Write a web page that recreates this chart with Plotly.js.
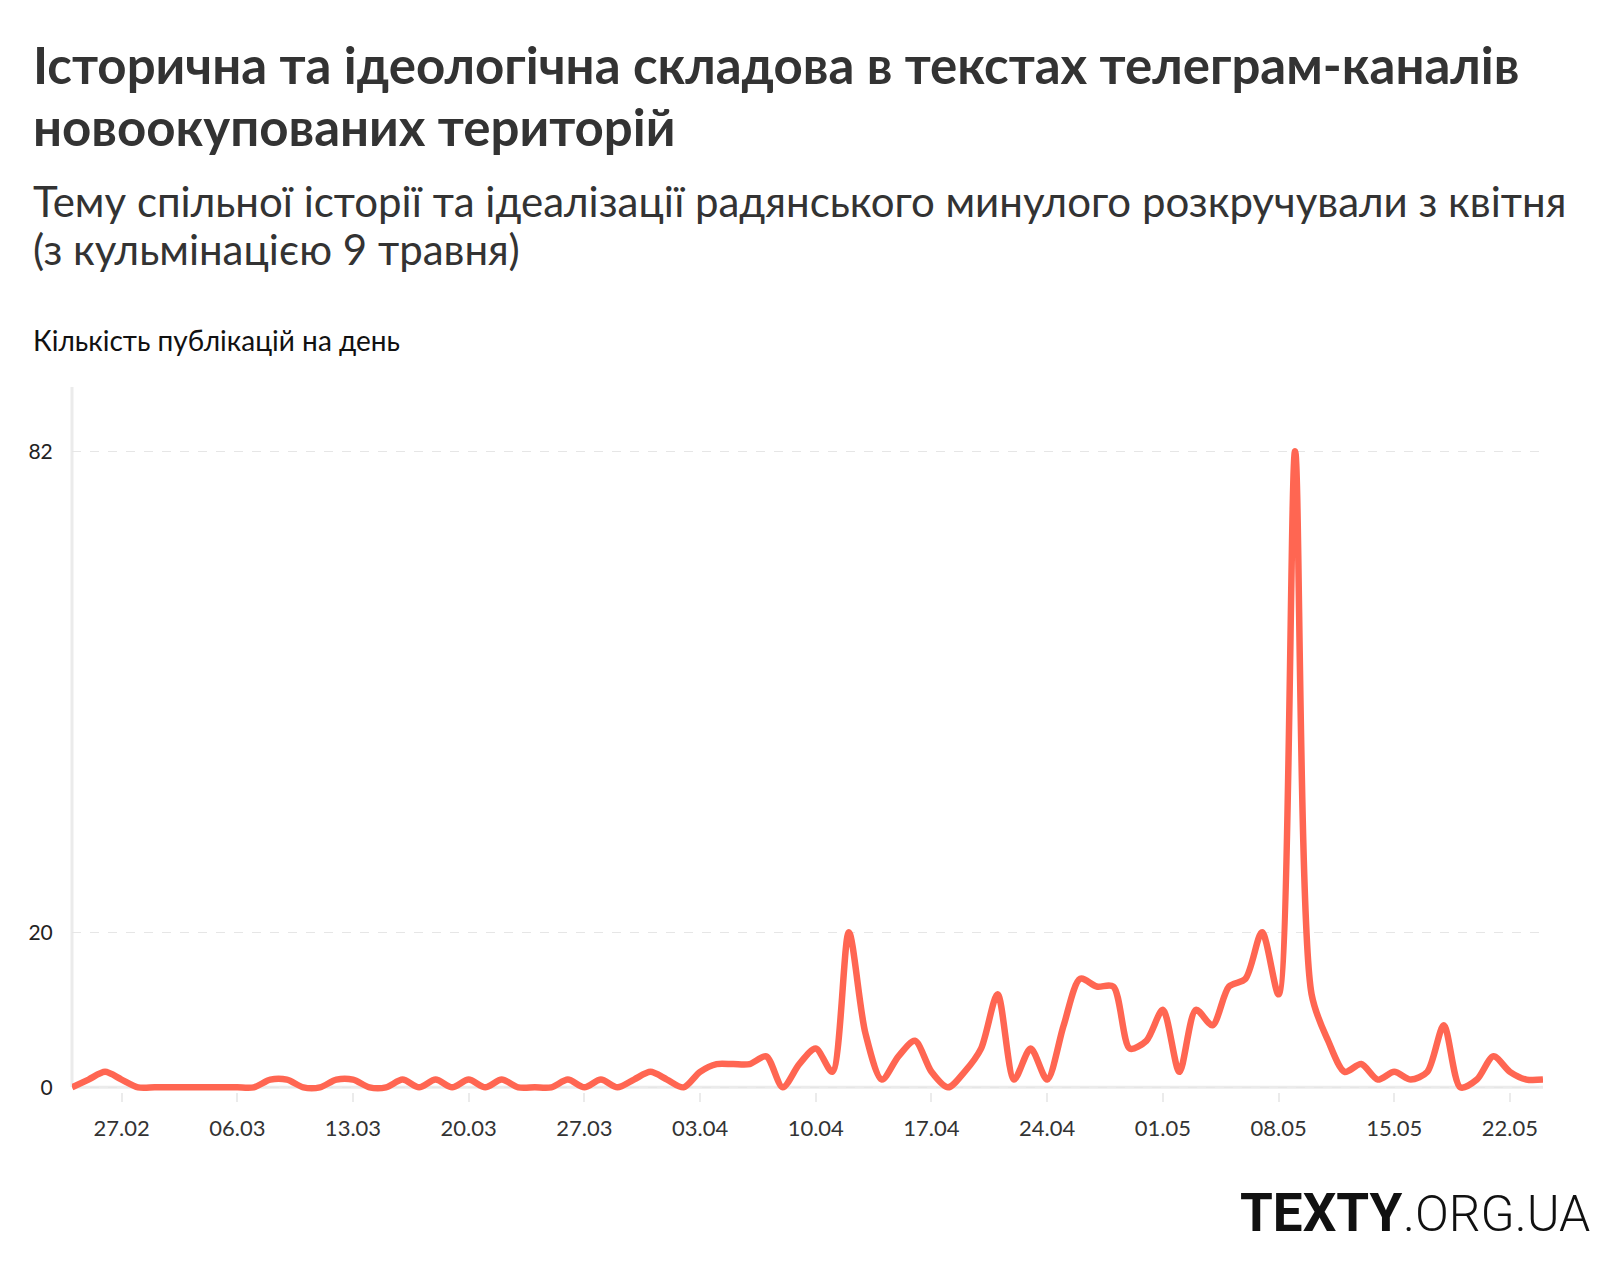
<!DOCTYPE html>
<html>
<head>
<meta charset="utf-8">
<script src="https://cdn.plot.ly/plotly-3.0.1.min.js"></script>
<style>
  html, body { margin: 0; padding: 0; background: #fff; }
  #chart { width: 1620px; height: 1270px; }
</style>
</head>
<body>
<div id="chart"></div>
<script>
// ---- data ----
const startDate = '2022-02-24';
const publications = [
  0, 1, 2, 1, 0, 0, 0, 0, 0, 0,
  0, 0, 1, 1, 0, 0, 1, 1, 0, 0,
  1, 0, 1, 0, 1, 0, 1, 0, 0, 0,
  1, 0, 1, 0, 1, 2, 1, 0, 2, 3,
  3, 3, 4, 0, 3, 5, 2, 20, 7, 1,
  4, 6, 2, 0, 2, 5, 12, 1, 5, 1,
  8, 14, 13, 13, 5, 6, 10, 2, 10, 8,
  13, 14, 20, 12, 82, 12, 6, 2, 3, 1,
  2, 1, 2, 8, 0, 1, 4, 2, 1, 1
];
const yTickValues = [0, 20, 82];
const firstTickDate = '2022-02-27';

const titleLines = ['Історична та ідеологічна складова в текстах телеграм-каналів', 'новоокупованих територій'];
const subtitleLines = ['Тему спільної історії та ідеалізації радянського минулого розкручували з квітня', '(з кульмінацією 9 травня)'];
const yTitleText = 'Кількість публікацій на день';

// ---- build dates ----
function addDays(iso, n) {
  const d = new Date(iso + 'T00:00:00Z');
  d.setUTCDate(d.getUTCDate() + n);
  return d.toISOString().slice(0, 10);
}
const dates = publications.map((_, i) => addDays(startDate, i));

// ---- geometry helpers (layout only) ----
const W = 1620, H = 1270;
const M = { l: 72, r: 77, t: 387, b: 178 };
const plotW = W - M.l - M.r, plotH = H - M.t - M.b;
const px2x = px => (px - M.l) / plotW;
const px2y = py => (H - M.b - py) / plotH;

const FONT = 'Lato, "Noto Sans", sans-serif';

function textLine(text, leftPx, topPx, size, color, extra) {
  return Object.assign({
    text: text, xref: 'paper', yref: 'paper',
    x: px2x(leftPx), y: px2y(topPx), xanchor: 'left', yanchor: 'top', align: 'left',
    showarrow: false, font: { family: FONT, size: size, color: color }
  }, extra || {});
}

const trace = {
  x: dates,
  y: publications,
  type: 'scatter',
  mode: 'lines',
  line: { color: '#ff6652', width: 6.5, shape: 'spline', smoothing: 0.8 },
  hoverinfo: 'x+y'
};

const layout = {
  width: W, height: H,
  margin: M,
  paper_bgcolor: '#fff',
  plot_bgcolor: '#fff',
  showlegend: false,
  font: { family: FONT, color: '#333' },
  xaxis: {
    type: 'date',
    range: [dates[0], dates[dates.length - 1]],
    tick0: firstTickDate,
    dtick: 7 * 86400000,
    tickformat: '%d.%m',
    ticks: 'outside',
    ticklen: 9,
    tickwidth: 2,
    tickcolor: '#ebebeb',
    ticklabelstandoff: 8,
    showgrid: false,
    showline: false,
    zeroline: false,
    tickfont: { family: FONT, size: 22, color: '#333' },
    fixedrange: true
  },
  yaxis: {
    range: [-0.6, 90.3],
    tickmode: 'array',
    tickvals: yTickValues,
    ticktext: yTickValues.map(String),
    ticks: 'outside',
    ticklen: 14,
    tickcolor: 'rgba(0,0,0,0)',
    showgrid: true,
    gridcolor: '#e6e6e6',
    griddash: 'dash',
    gridwidth: 1,
    zeroline: false,
    showline: false,
    tickfont: { family: FONT, size: 21, color: '#222' },
    fixedrange: true
  },
  shapes: [
    { type: 'line', xref: 'paper', yref: 'y', x0: 0, x1: 1, y0: 0, y1: 0,
      line: { color: '#ebebeb', width: 3 }, layer: 'below' },
    { type: 'line', xref: 'paper', yref: 'paper', x0: 0, x1: 0, y0: px2y(1087), y1: 1,
      line: { color: '#ebebeb', width: 3 }, layer: 'below' }
  ],
  annotations: [
    textLine('<b>' + titleLines[0] + '</b>', 31, 32, 51, '#333'),
    textLine('<b>' + titleLines[1] + '</b>', 31, 94, 51, '#333'),
    textLine(subtitleLines[0], 31, 174, 42, '#333'),
    textLine(subtitleLines[1], 31, 222, 42, '#333'),
    textLine(yTitleText, 31, 321, 28, '#111'),
    { text: '<b>TEXTY</b>', xref: 'paper', yref: 'paper',
      x: px2x(1405), y: px2y(1180), xanchor: 'right', yanchor: 'top',
      showarrow: false, font: { family: 'Roboto, sans-serif', size: 53, color: '#111', weight: 900 } },
    { text: '.ORG.UA', xref: 'paper', yref: 'paper',
      x: px2x(1401), y: px2y(1183), xanchor: 'left', yanchor: 'top',
      showarrow: false, font: { family: 'Roboto, sans-serif', size: 50, color: '#111', weight: 300 } }
  ]
};

Plotly.newPlot('chart', [trace], layout, { displayModeBar: false, staticPlot: true });
</script>
</body>
</html>
